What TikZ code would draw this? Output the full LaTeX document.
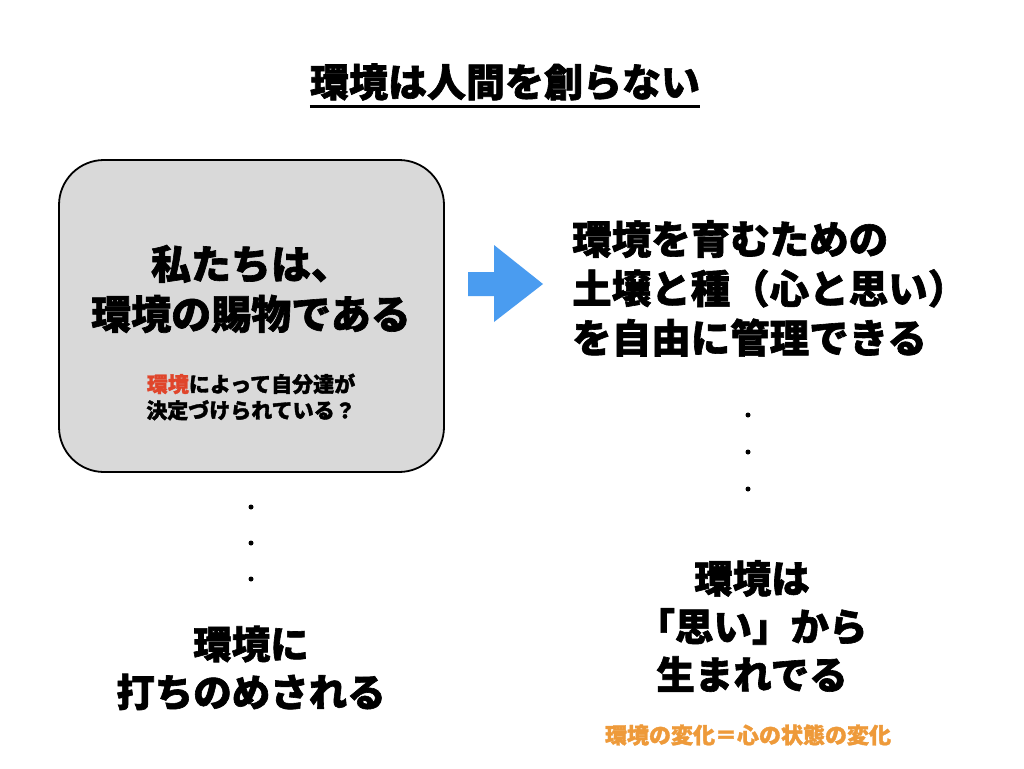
\documentclass[tikz,border=0pt]{standalone}
\usepackage{fontspec}
\newfontfamily\cjk[RawFeature={embolden=1.6}]{Noto Sans CJK JP Black}
\definecolor{boxgray}{HTML}{D9D9D9}
\definecolor{arrowblue}{HTML}{4A9CF0}
\definecolor{redtxt}{HTML}{E0452B}
\definecolor{orangetxt}{HTML}{EE9A3A}
\newcommand{\cjkfs}[1]{\cjk\fontsize{#1}{1.25\dimexpr #1pt\relax}\selectfont}
\tikzset{
  txt/.style={align=center, inner sep=0pt},
  dotmark/.style={circle, fill=black, inner sep=0pt, minimum size=5pt},
}
\begin{document}
\begin{tikzpicture}[x=1pt,y=-1pt]
\useasboundingbox (0,0) rectangle (1024,768);
\fill[white] (0,0) rectangle (1024,768);
% title
\node[txt, font=\cjkfs{39}] (title) at (505,82) {環境は人間を創らない};
\draw[line width=2.5pt] (title.south west) ++(0,6) coordinate (ul1) -- (title.south east |- ul1) coordinate (ul2);
% box
\node[draw=black, line width=1.8pt, fill=boxgray, rounded corners=45pt, minimum width=385pt, minimum height=312pt, inner sep=0pt] (box) at (251.5,316) {};
\node[txt, font=\cjkfs{40}] (main) at (251,289) {私たちは、\\環境の賜物である};
\node[txt, font=\cjkfs{21}] (sub) at (251,397) {{\color{redtxt}環境}によって自分達が\\決定づけられている？};
% arrow
\fill[arrowblue] (468,272) -- (494,272) -- (494,245) -- (543,284) -- (494,322) -- (494,296) -- (468,296) -- cycle;
% right text
\node[txt, align=left, anchor=north west, font=\cjkfs{39.5}] (right) at (572,220) {環境を育むための\\土壌と種（心と思い）\\を自由に管理できる};
% dots right
\node[dotmark] (r1) at (748,415) {};
\node[dotmark] (r2) at (748,452) {};
\node[dotmark] (r3) at (748,489) {};
% dots left
\node[dotmark] (l1) at (251,507) {};
\node[dotmark] (l2) at (251,543) {};
\node[dotmark] (l3) at (251,579) {};
% bottom left
\node[txt, font=\cjkfs{38.5}] (bl) at (251,668) {環境に\\打ちのめされる};
\node[txt, font=\cjkfs{38.5}] (br) at (752,626) {環境は\\「思い」から\\生まれでる};
\node[txt, font=\cjkfs{22}, text=orangetxt] (note) at (748,735) {環境の変化＝心の状態の変化};
\end{tikzpicture}
\end{document}
